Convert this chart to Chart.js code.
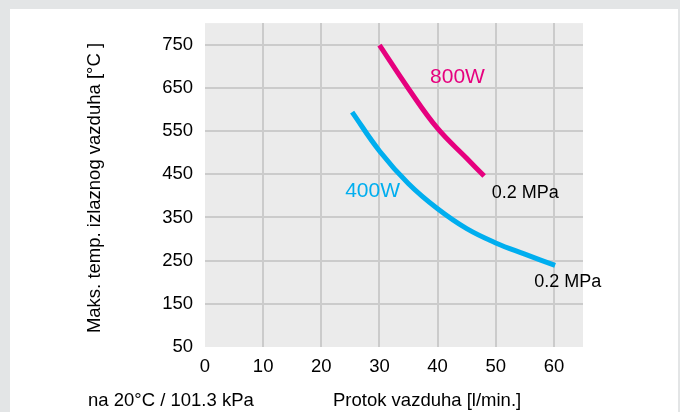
<!DOCTYPE html>
<html>
<head>
<meta charset="utf-8">
<script src="https://cdn.jsdelivr.net/npm/chart.js@4"></script>
<style>
  html, body { margin: 0; padding: 0; background: #e3e5e6; }
  #panel { position: absolute; left: 10px; top: 9px; width: 668px; height: 403px; background: #fff; }
  #chart { position: absolute; left: 0; top: 0; }
</style>
</head>
<body>
<div id="panel"></div>
<canvas id="chart" width="680" height="412"></canvas>
<script>
// flow [l/min.] vs max outlet air temperature [°C]
const flow400W = [25.3, 30, 35, 40, 45, 50, 55, 60.2];
const temp400W = [594, 504, 428, 370, 324, 291, 265, 239];
const flow800W = [30, 35, 40, 45, 48];
const temp800W = [749, 648, 556, 487, 446];

const xTicks = [0, 10, 20, 30, 40, 50, 60];
const yTicks = [50, 150, 250, 350, 450, 550, 650, 750];

// curve labels, anchored in data units (left edge, baseline)
const curveLabels = [
  { text: '800W', x: 38.7, y: 661, color: '#e6007e', size: 21 },
  { text: '400W', x: 24.1, y: 398, color: '#00aeef', size: 21 },
  { text: '0.2 MPa', x: 49.3, y: 396, color: '#000', size: 18 },
  { text: '0.2 MPa', x: 56.6, y: 188, color: '#000', size: 18 }
];

const FONT = '"Liberation Sans", Arial, sans-serif';

const plotBg = {
  id: 'plotBg',
  beforeDraw(chart) {
    const a = chart.chartArea, ctx = chart.ctx;
    ctx.save();
    ctx.fillStyle = '#ebebeb';
    ctx.fillRect(a.left, a.top, a.right - a.left, a.bottom - a.top);
    ctx.restore();
  }
};

const textBits = {
  id: 'textBits',
  afterDatasetsDraw(chart) {
    const ctx = chart.ctx, xs = chart.scales.x, ys = chart.scales.y;
    ctx.save();
    ctx.textAlign = 'left';
    ctx.textBaseline = 'alphabetic';
    curveLabels.forEach(l => {
      ctx.font = l.size + 'px ' + FONT;
      ctx.fillStyle = l.color;
      ctx.fillText(l.text, xs.getPixelForValue(l.x), ys.getPixelForValue(l.y));
    });
    ctx.restore();
  },
  afterDraw(chart) {
    const ctx = chart.ctx;
    ctx.save();
    ctx.font = '18.5px ' + FONT;
    ctx.fillStyle = '#000';
    ctx.textBaseline = 'alphabetic';
    ctx.textAlign = 'left';
    ctx.fillText('na 20°C / 101.3 kPa', 88, 406);
    ctx.fillText('Protok vazduha [l/min.]', 333, 406);
    ctx.translate(100, 188);
    ctx.rotate(-Math.PI / 2);
    ctx.textAlign = 'center';
    ctx.fillText('Maks. temp. izlaznog vazduha [°C ]', 0, 0);
    ctx.restore();
  }
};

const gridColor = (hidden) => (c) => (c.tick && c.tick.value === hidden) ? 'rgba(0,0,0,0)' : '#cbcbcb';

new Chart(document.getElementById('chart').getContext('2d'), {
  type: 'line',
  data: {
    datasets: [
      {
        label: '400W',
        data: flow400W.map((x, i) => ({ x: x, y: temp400W[i] })),
        borderColor: '#00aeef',
        borderWidth: 5,
        pointRadius: 0,
        tension: 0.4,
        fill: false
      },
      {
        label: '800W',
        data: flow800W.map((x, i) => ({ x: x, y: temp800W[i] })),
        borderColor: '#e6007e',
        borderWidth: 5,
        pointRadius: 0,
        tension: 0.4,
        fill: false
      }
    ]
  },
  options: {
    responsive: false,
    animation: false,
    devicePixelRatio: 1,
    layout: { padding: { top: 22, right: 97, left: 0, bottom: 0 } },
    plugins: { legend: { display: false }, tooltip: { enabled: false } },
    scales: {
      x: {
        type: 'linear',
        min: 0,
        max: 65,
        border: { display: false },
        grid: { color: gridColor(0), lineWidth: 2, drawTicks: false },
        ticks: { padding: 9, color: '#000', font: { family: FONT, size: 18.5 } },
        afterBuildTicks: s => { s.ticks = xTicks.map(v => ({ value: v })); },
        afterFit: s => { s.height = 65; }
      },
      y: {
        min: 50,
        max: 800,
        border: { display: false },
        grid: { color: gridColor(50), lineWidth: 2, drawTicks: false },
        ticks: { padding: 12, color: '#000', font: { family: FONT, size: 18.5 } },
        afterBuildTicks: s => { s.ticks = yTicks.map(v => ({ value: v })); },
        afterFit: s => { s.width = 205; }
      }
    }
  },
  plugins: [plotBg, textBits]
});
</script>
</body>
</html>
